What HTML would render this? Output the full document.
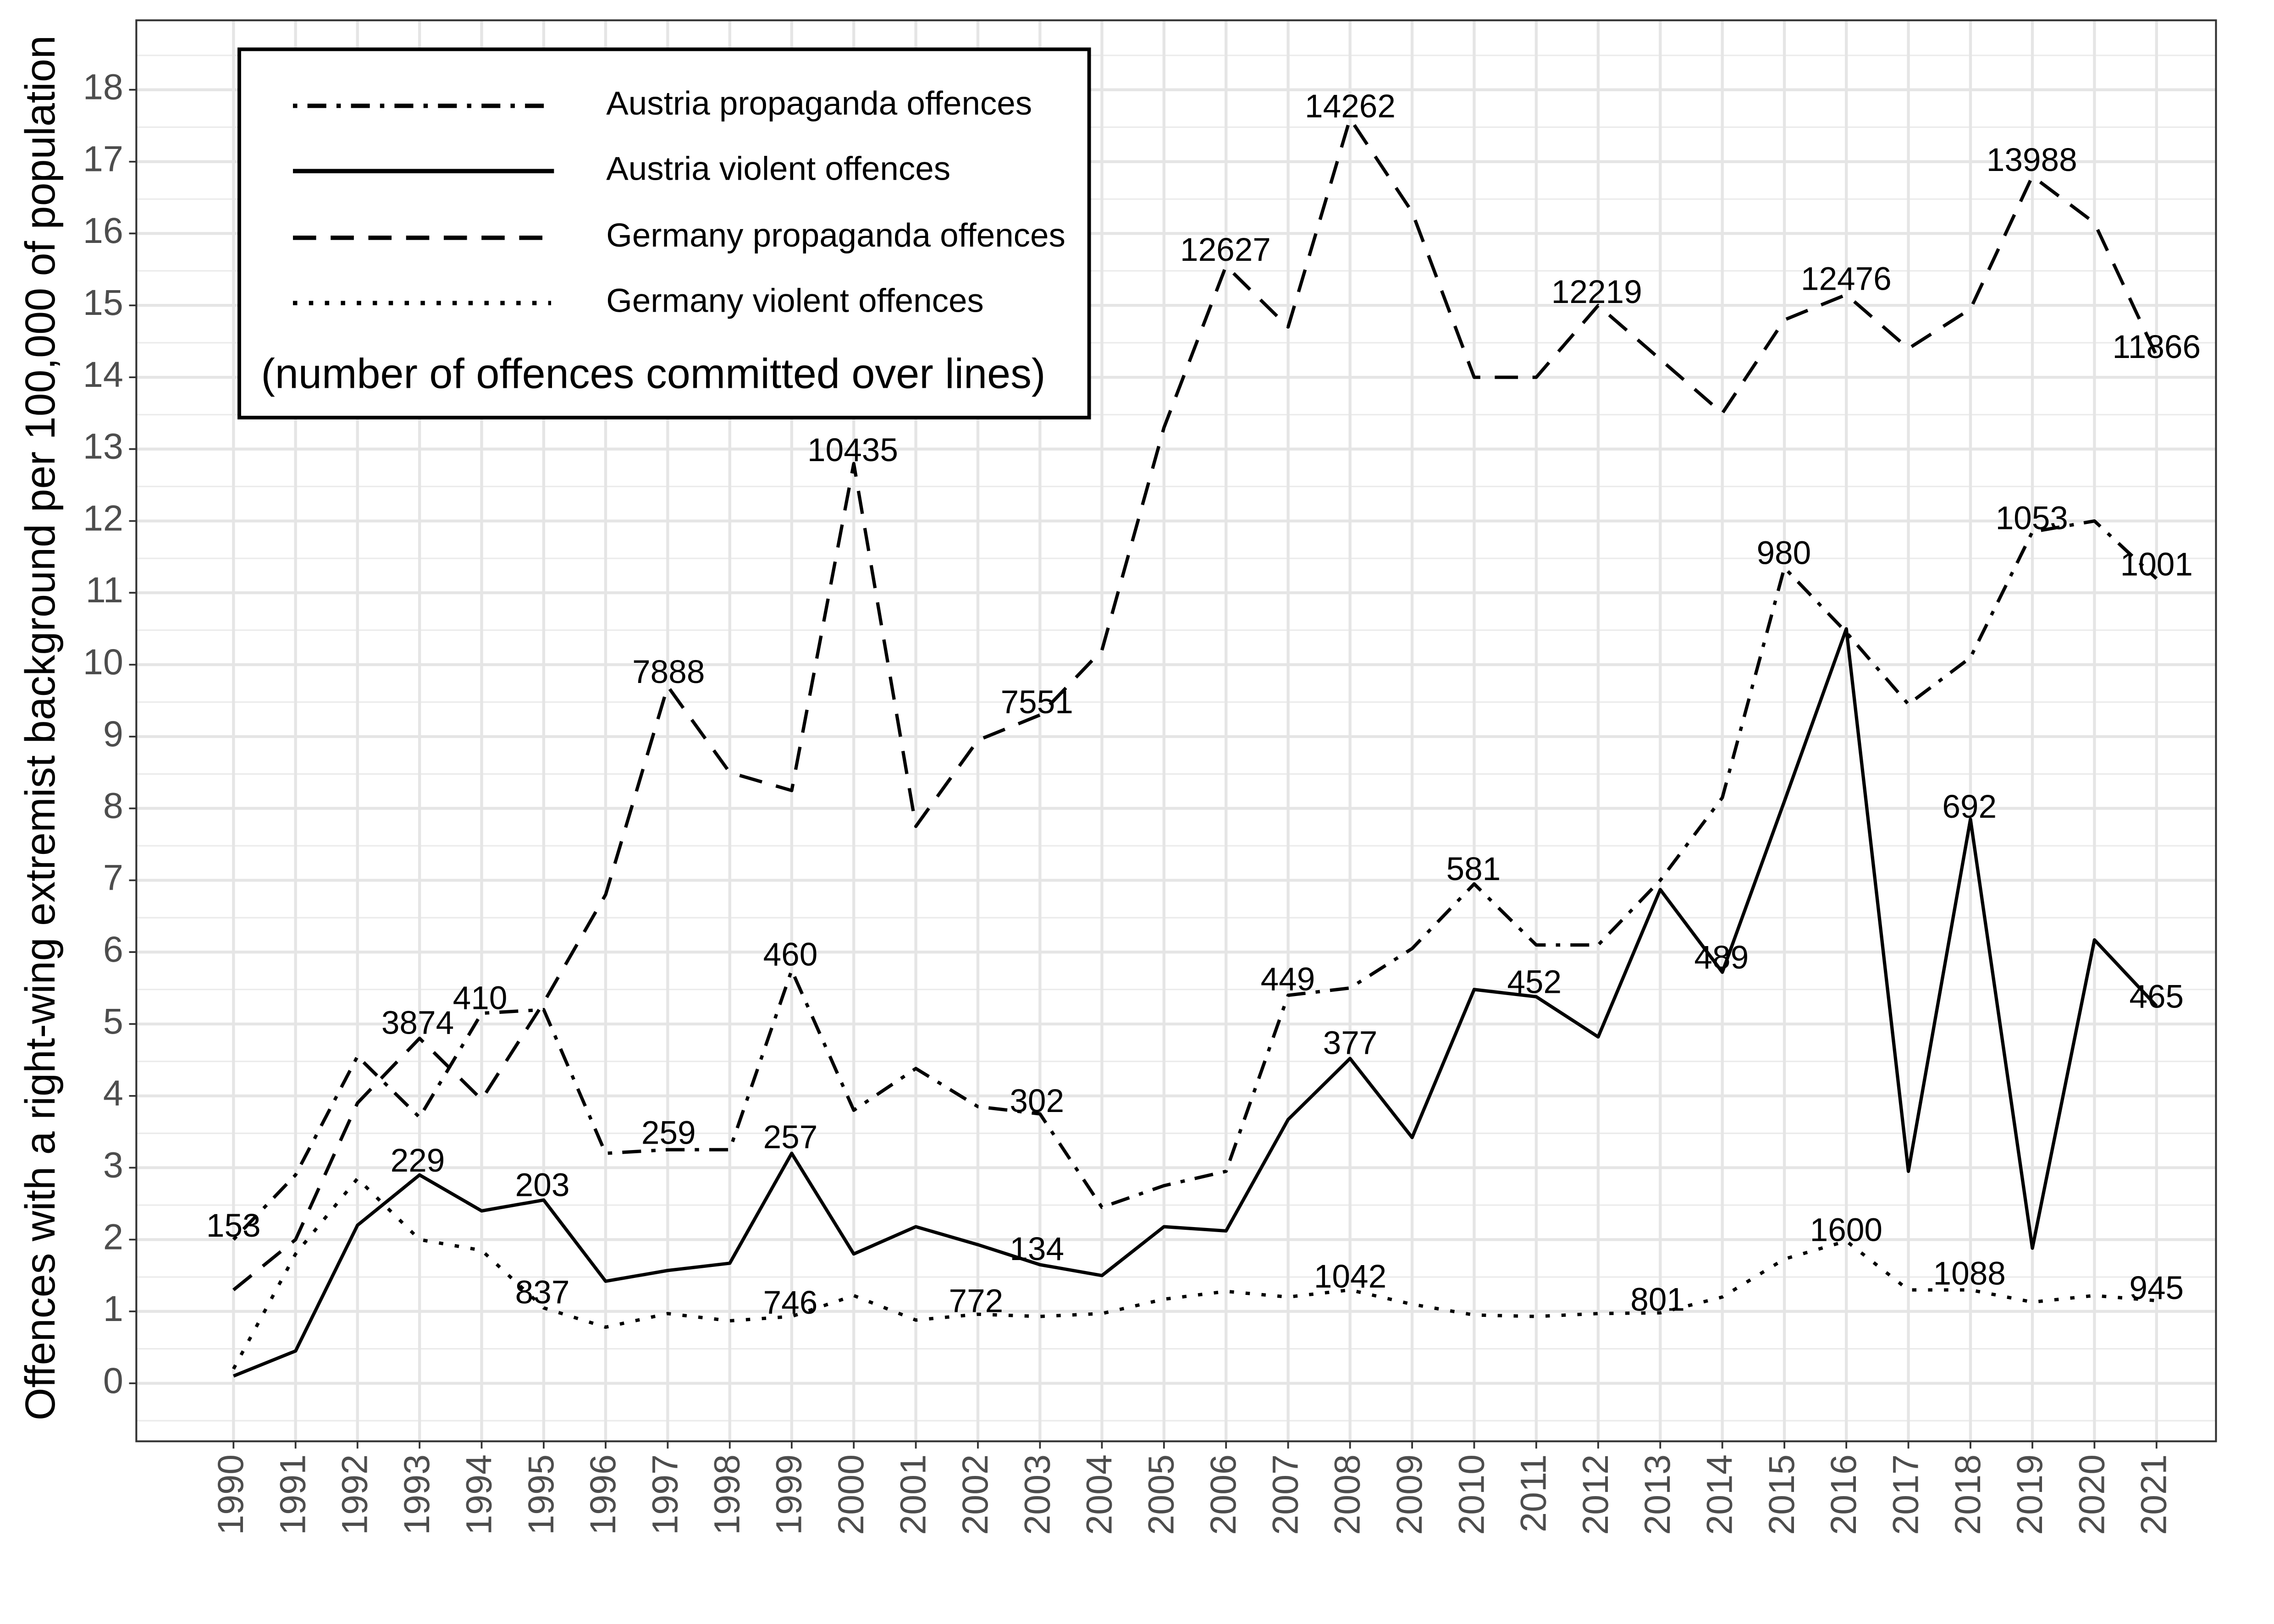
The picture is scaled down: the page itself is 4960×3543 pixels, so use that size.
<!DOCTYPE html>
<html><head><meta charset="utf-8"><style>html,body{margin:0;padding:0;background:#fff}svg{display:block}</style></head>
<body>
<svg width="4960" height="3543" viewBox="0 0 1568 1120" preserveAspectRatio="none" xmlns="http://www.w3.org/2000/svg" font-family="Liberation Sans, Arial, sans-serif">
<rect width="1568" height="1120" fill="#fff"/>
<g stroke="#ebebeb" stroke-width="1">
<path d="M94,979.8H1528M94,930.2H1528M94,880.7H1528M94,831.1H1528M94,781.6H1528M94,732H1528M94,682.4H1528M94,632.9H1528M94,583.3H1528M94,533.8H1528M94,484.2H1528M94,434.6H1528M94,385.1H1528M94,335.5H1528M94,286H1528M94,236.4H1528M94,186.8H1528M94,137.3H1528M94,87.7H1528M94,38.2H1528"/>
</g>
<g stroke="#e5e5e5" stroke-width="2">
<path d="M94,954H1528M94,904.4H1528M94,854.9H1528M94,805.3H1528M94,755.8H1528M94,706.2H1528M94,656.6H1528M94,607.1H1528M94,557.5H1528M94,508H1528M94,458.4H1528M94,408.8H1528M94,359.3H1528M94,309.7H1528M94,260.2H1528M94,210.6H1528M94,161H1528M94,111.5H1528M94,61.9H1528"/>
<path d="M161,14V994M203.8,14V994M246.5,14V994M289.3,14V994M332.1,14V994M374.9,14V994M417.6,14V994M460.4,14V994M503.2,14V994M545.9,14V994M588.7,14V994M631.5,14V994M674.3,14V994M717.1,14V994M759.8,14V994M802.6,14V994M845.4,14V994M888.2,14V994M930.9,14V994M973.7,14V994M1016.5,14V994M1059.3,14V994M1102,14V994M1144.8,14V994M1187.6,14V994M1230.4,14V994M1273.1,14V994M1315.9,14V994M1358.7,14V994M1401.4,14V994M1444.2,14V994M1487,14V994"/>
</g>
<g fill="none" stroke="#000" stroke-width="2.3" stroke-linejoin="round">
<polyline stroke-dasharray="16 10" points="161,889.6 203.8,854.9 246.5,760.7 289.3,716.1 332.1,758.3 374.9,691.4 417.6,617 460.4,473.3 503.2,532.8 545.9,545.2 588.7,319.7 631.5,569.9 674.3,510.5 717.1,493.1 759.8,448.5 802.6,294.9 845.4,183.4 888.2,225.5 930.9,81.8 973.7,146.2 1016.5,260.2 1059.3,260.2 1102,210.7 1144.8,247.8 1187.6,285 1230.4,220.6 1273.1,203.2 1315.9,240.4 1358.7,213.1 1401.4,121.5 1444.2,153.7 1487,245.3"/>
<polyline stroke-dasharray="3 7 13 7" points="161,854.9 203.8,810.3 246.5,728.5 289.3,770.6 332.1,698.8 374.9,696.3 417.6,795.4 460.4,792.9 503.2,792.9 545.9,669.1 588.7,765.7 631.5,736.9 674.3,763.2 717.1,768.2 759.8,832.6 802.6,817.7 845.4,807.8 888.2,686.4 930.9,681.4 973.7,654.2 1016.5,609.6 1059.3,651.7 1102,651.7 1144.8,607.1 1187.6,550.1 1230.4,391.5 1273.1,436.1 1315.9,485.7 1358.7,453.5 1401.4,366.8 1444.2,359.3 1487,399"/>
<polyline points="161,949 203.8,931.7 246.5,845 289.3,810.3 332.1,835.1 374.9,827.6 417.6,883.6 460.4,876.2 503.2,871.2 545.9,795.4 588.7,864.8 631.5,846 674.3,858.4 717.1,872.2 759.8,879.7 802.6,846 845.4,848.9 888.2,772.1 930.9,730 973.7,784.5 1016.5,682.4 1059.3,687.4 1102,715.1 1144.8,613.5 1187.6,670.5 1230.4,552.6 1273.1,433.7 1315.9,807.8 1358.7,565 1401.4,860.8 1444.2,648.2 1487,693.8"/>
<polyline stroke-dasharray="3 8" points="161,944.1 203.8,864.8 246.5,812.8 289.3,854.9 332.1,862.3 374.9,902 417.6,915.3 460.4,905.9 503.2,910.9 545.9,907.9 588.7,893.5 631.5,910.4 674.3,906.4 717.1,907.9 759.8,905.9 802.6,896 845.4,890.6 888.2,894.5 930.9,889.6 973.7,899.5 1016.5,906.9 1059.3,907.9 1102,905.9 1144.8,905.4 1187.6,894.5 1230.4,868.3 1273.1,855.9 1315.9,889.6 1358.7,889.6 1401.4,898 1444.2,893.5 1487,897"/>
</g>
<g font-size="22.5" text-anchor="middle" dominant-baseline="middle" fill="#000">
<text x="161" y="847">153</text><text x="288" y="707">3874</text><text x="331" y="690">410</text><text x="288" y="802">229</text><text x="374" y="819">203</text><text x="374" y="893">837</text>
<text x="461" y="465">7888</text><text x="461" y="783">259</text><text x="545" y="660">460</text><text x="545" y="786">257</text><text x="545" y="900">746</text>
<text x="588" y="312">10435</text><text x="715" y="486">7551</text><text x="715" y="761">302</text><text x="715" y="863">134</text><text x="673" y="899">772</text>
<text x="845" y="174">12627</text><text x="888" y="677">449</text><text x="931" y="75">14262</text><text x="931" y="721">377</text><text x="931" y="882">1042</text>
<text x="1016" y="601">581</text><text x="1058" y="679">452</text><text x="1101" y="203">12219</text><text x="1143" y="898">801</text><text x="1187" y="662">489</text>
<text x="1230" y="383">980</text><text x="1273" y="194">12476</text><text x="1273" y="850">1600</text><text x="1358" y="558">692</text><text x="1358" y="880">1088</text>
<text x="1401" y="112">13988</text><text x="1401" y="359">1053</text><text x="1487" y="241">11866</text><text x="1487" y="391">1001</text><text x="1487" y="689">465</text><text x="1487" y="890">945</text>
</g>
<rect x="94" y="14" width="1434" height="980" fill="none" stroke="#333" stroke-width="1.3"/>
<g stroke="#333" stroke-width="1.2">
<path d="M89,954H94M89,904.4H94M89,854.9H94M89,805.3H94M89,755.8H94M89,706.2H94M89,656.6H94M89,607.1H94M89,557.5H94M89,508H94M89,458.4H94M89,408.8H94M89,359.3H94M89,309.7H94M89,260.2H94M89,210.6H94M89,161H94M89,111.5H94M89,61.9H94"/>
<path d="M161,994v5M203.8,994v5M246.5,994v5M289.3,994v5M332.1,994v5M374.9,994v5M417.6,994v5M460.4,994v5M503.2,994v5M545.9,994v5M588.7,994v5M631.5,994v5M674.3,994v5M717.1,994v5M759.8,994v5M802.6,994v5M845.4,994v5M888.2,994v5M930.9,994v5M973.7,994v5M1016.5,994v5M1059.3,994v5M1102,994v5M1144.8,994v5M1187.6,994v5M1230.4,994v5M1273.1,994v5M1315.9,994v5M1358.7,994v5M1401.4,994v5M1444.2,994v5M1487,994v5"/>
</g>
<g font-size="25" fill="#4d4d4d" text-anchor="end" dominant-baseline="middle">
<text x="85" y="954">0</text><text x="85" y="904.4">1</text><text x="85" y="854.9">2</text><text x="85" y="805.3">3</text><text x="85" y="755.8">4</text><text x="85" y="706.2">5</text><text x="85" y="656.6">6</text><text x="85" y="607.1">7</text><text x="85" y="557.5">8</text><text x="85" y="508">9</text><text x="85" y="458.4">10</text><text x="85" y="408.8">11</text><text x="85" y="359.3">12</text><text x="85" y="309.7">13</text><text x="85" y="260.2">14</text><text x="85" y="210.6">15</text><text x="85" y="161">16</text><text x="85" y="111.5">17</text><text x="85" y="61.9">18</text>
</g>
<g font-size="25" fill="#4d4d4d" text-anchor="end" dominant-baseline="middle">
<text transform="translate(161,1003) rotate(-90)">1990</text><text transform="translate(203.8,1003) rotate(-90)">1991</text><text transform="translate(246.5,1003) rotate(-90)">1992</text><text transform="translate(289.3,1003) rotate(-90)">1993</text><text transform="translate(332.1,1003) rotate(-90)">1994</text><text transform="translate(374.9,1003) rotate(-90)">1995</text><text transform="translate(417.6,1003) rotate(-90)">1996</text><text transform="translate(460.4,1003) rotate(-90)">1997</text><text transform="translate(503.2,1003) rotate(-90)">1998</text><text transform="translate(545.9,1003) rotate(-90)">1999</text><text transform="translate(588.7,1003) rotate(-90)">2000</text><text transform="translate(631.5,1003) rotate(-90)">2001</text><text transform="translate(674.3,1003) rotate(-90)">2002</text><text transform="translate(717.1,1003) rotate(-90)">2003</text><text transform="translate(759.8,1003) rotate(-90)">2004</text><text transform="translate(802.6,1003) rotate(-90)">2005</text><text transform="translate(845.4,1003) rotate(-90)">2006</text><text transform="translate(888.2,1003) rotate(-90)">2007</text><text transform="translate(930.9,1003) rotate(-90)">2008</text><text transform="translate(973.7,1003) rotate(-90)">2009</text><text transform="translate(1016.5,1003) rotate(-90)">2010</text><text transform="translate(1059.3,1003) rotate(-90)">2011</text><text transform="translate(1102,1003) rotate(-90)">2012</text><text transform="translate(1144.8,1003) rotate(-90)">2013</text><text transform="translate(1187.6,1003) rotate(-90)">2014</text><text transform="translate(1230.4,1003) rotate(-90)">2015</text><text transform="translate(1273.1,1003) rotate(-90)">2016</text><text transform="translate(1315.9,1003) rotate(-90)">2017</text><text transform="translate(1358.7,1003) rotate(-90)">2018</text><text transform="translate(1401.4,1003) rotate(-90)">2019</text><text transform="translate(1444.2,1003) rotate(-90)">2020</text><text transform="translate(1487,1003) rotate(-90)">2021</text>
</g>
<text transform="translate(30,502) rotate(-90)" font-size="29" text-anchor="middle" dominant-baseline="middle" fill="#000">Offences with a right-wing extremist background per 100,000 of population</text>
<rect x="165" y="34" width="586" height="254" fill="#fff" stroke="#000" stroke-width="2.5"/>
<g stroke="#000" stroke-width="3" fill="none">
<path d="M202,73H380" stroke-dasharray="3 7 13 7"/>
<path d="M202,118H382"/>
<path d="M202,164H382" stroke-dasharray="16 10"/>
<path d="M202,209H380" stroke-dasharray="3 8"/>
</g>
<g font-size="23" dominant-baseline="middle" fill="#000">
<text x="418" y="73">Austria propaganda offences</text>
<text x="418" y="118">Austria violent offences</text>
<text x="418" y="164">Germany propaganda offences</text>
<text x="418" y="209">Germany violent offences</text>
</g>
<text x="180" y="260" font-size="29" dominant-baseline="middle" fill="#000">(number of offences committed over lines)</text>
</svg>
</body></html>
